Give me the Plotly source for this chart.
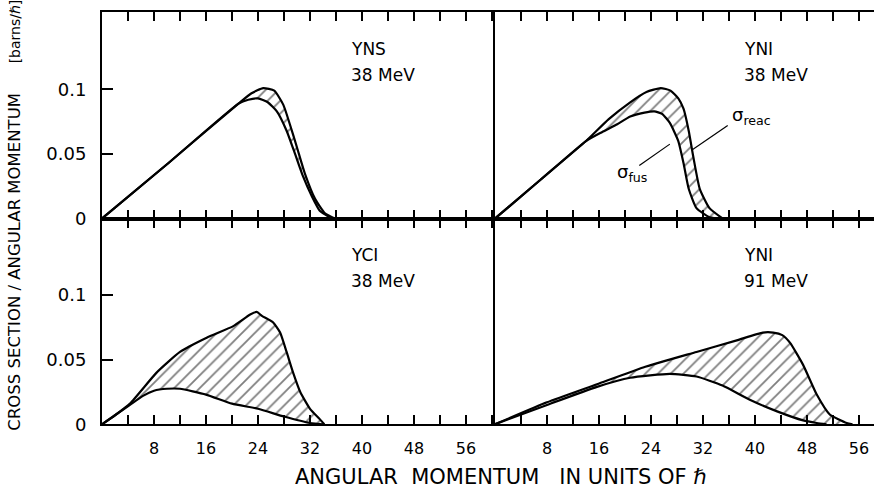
import plotly.graph_objects as go

# ---- data ----------------------------------------------------------------
# angular momentum l (units of hbar), cross section per l (barns/hbar)
yns38_fus_l = [0, 10, 21, 22.5, 24, 25.5, 26.9, 28.4, 29.7, 30.9, 32.3, 33.5, 35]
yns38_fus = [0, 0.042, 0.089, 0.092, 0.093, 0.090, 0.083, 0.068, 0.050, 0.033, 0.017, 0.006, 0.001]
yns38_reac_l = [0, 10, 21, 23, 24.8, 26.5, 27.9, 28.9, 30, 31.2, 32.8, 34.3, 35.8]
yns38_reac = [0, 0.042, 0.089, 0.097, 0.101, 0.099, 0.088, 0.073, 0.055, 0.035, 0.015, 0.004, 0]

yni38_fus_l = [0, 7, 14, 16.5, 18.8, 20.8, 23, 24.5, 25.7, 26.9, 28.2, 29, 29.8, 31, 33, 35]
yni38_fus = [0, 0.030, 0.060, 0.067, 0.073, 0.079, 0.082, 0.083, 0.081, 0.074, 0.060, 0.043, 0.023, 0.008, 0.001, 0]
yni38_reac_l = [0, 7, 14, 17.5, 20.8, 23.3, 25.5, 27, 28.2, 29, 29.8, 30.5, 31.5, 33, 35]
yni38_reac = [0, 0.030, 0.060, 0.077, 0.090, 0.098, 0.101, 0.099, 0.093, 0.085, 0.068, 0.048, 0.023, 0.008, 0]

yci38_fus_l = [0, 2, 4.3, 6.3, 8, 10, 12, 16, 20, 24, 28, 32, 34.2]
yci38_fus = [0, 0.007, 0.015, 0.022, 0.026, 0.0275, 0.0275, 0.023, 0.016, 0.012, 0.006, 0.001, 0]
yci38_reac_l = [0, 2, 4.3, 8.4, 12, 16.1, 20.2, 22.8, 23.8, 24.6, 26.3, 27.4, 28.4, 29.4, 30.5, 32, 33.5, 34.2]
yci38_reac = [0, 0.007, 0.016, 0.040, 0.056, 0.067, 0.076, 0.085, 0.087, 0.084, 0.079, 0.071, 0.056, 0.040, 0.025, 0.012, 0.004, 0]

yni91_fus_l = [0, 8, 15.7, 20.8, 26.9, 31, 35, 39.2, 43.4, 47.4, 49.5, 51]
yni91_fus = [0, 0.015, 0.029, 0.036, 0.039, 0.037, 0.030, 0.019, 0.010, 0.003, 0.001, 0]
yni91_reac_l = [0, 8, 15.7, 22.8, 31, 37.2, 41.2, 42.8, 44.2, 45.4, 47.4, 49.5, 51.5, 54.1, 55]
yni91_reac = [0, 0.017, 0.031, 0.044, 0.056, 0.065, 0.071, 0.071, 0.069, 0.063, 0.046, 0.023, 0.0076, 0.001, 0]

x_ticks = [8, 16, 24, 32, 40, 48, 56]
x_ticktext = ["8", "16", "24", "32", "40", "48", "56"]
y_ticks = [0, 0.05, 0.1]
y_ticktext = ["0", "0.05", "0.1"]

panel_labels = [("YNS", "38 MeV"), ("YNI", "38 MeV"), ("YCI", "38 MeV"), ("YNI", "91 MeV")]

FONT = "DejaVu Sans"
W, H = 874, 497
# panel frame in pixels
X0, XMID, X1 = 102, 495, 874
YTOP, YMID, YBOT = 12, 223, 433
PX_PER_L = 6.5

panels = [
    # (suffix, fus_l, fus, reac_l, reac, x pixels, y pixels, is_left, is_bottom)
    ("", yns38_fus_l, yns38_fus, yns38_reac_l, yns38_reac, (X0, XMID), (YMID, YTOP), True, False),
    ("2", yni38_fus_l, yni38_fus, yni38_reac_l, yni38_reac, (XMID, X1), (YMID, YTOP), False, False),
    ("3", yci38_fus_l, yci38_fus, yci38_reac_l, yci38_reac, (X0, XMID), (YBOT, YMID), True, True),
    ("4", yni91_fus_l, yni91_fus, yni91_reac_l, yni91_reac, (XMID, X1), (YBOT, YMID), False, True),
]

fig = go.Figure()
layout = dict(
    width=W, height=H, margin=dict(l=0, r=0, t=0, b=0),
    paper_bgcolor="white", plot_bgcolor="white", showlegend=False,
    font=dict(family=FONT, color="black"),
)
annotations = []

for (sfx, fl, fy, rl, ry, (xa, xb), (ya, yb), is_left, is_bottom), (name, energy) in zip(panels, panel_labels):
    xref, yref = "x" + sfx, "y" + sfx
    line = dict(color="black", width=2.2, shape="spline", smoothing=0.5)
    fig.add_trace(go.Scatter(x=fl, y=fy, mode="lines", line=line, xaxis=xref, yaxis=yref,
                             hoverinfo="skip"))
    fig.add_trace(go.Scatter(
        x=rl, y=ry, mode="lines", line=line, xaxis=xref, yaxis=yref, fill="tonexty",
        fillcolor="rgba(0,0,0,0)",
        fillpattern=dict(shape="/", size=9, solidity=0.2, fgcolor="black", bgcolor="rgba(0,0,0,0)"),
        hoverinfo="skip"))

    layout["xaxis" + sfx] = dict(
        domain=[xa / W, xb / W], range=[0, (xb - xa) / PX_PER_L], anchor=yref,
        showgrid=False, zeroline=False, showline=True, linecolor="black", linewidth=2,
        mirror="ticks", ticks="inside", ticklen=9, tickwidth=1.5, tickcolor="black",
        tickvals=x_ticks, ticktext=x_ticktext, showticklabels=is_bottom,
        minor=dict(tick0=0, dtick=4, ticks="inside", ticklen=9, tickwidth=1.5, tickcolor="black"),
        tickfont=dict(size=16, family=FONT), ticklabelstandoff=9,
    )
    layout["yaxis" + sfx] = dict(
        domain=[1 - ya / H, 1 - yb / H], range=[0, (ya - yb) / 1318], anchor=xref,
        showgrid=False, zeroline=False, showline=True, linecolor="black", linewidth=2,
        ticks="inside" if is_left else "", ticklen=11, tickwidth=1.5, tickcolor="black",
        tickvals=y_ticks, ticktext=y_ticktext, showticklabels=is_left,
        tickfont=dict(size=18, family=FONT), ticklabelstandoff=10,
    )
    for text, yv in ((name, 0.131), (energy, 0.111)):
        annotations.append(dict(text=text, x=38, y=yv, xref=xref, yref=yref, xanchor="left",
                                yanchor="middle", showarrow=False, font=dict(size=17)))

# sigma labels with leader lines in the YNI 38 MeV panel
annotations += [
    dict(text="σ<sub>reac</sub>", x=36.2, y=0.0795, xref="x2", yref="y2", xanchor="left",
         yanchor="middle", showarrow=False, font=dict(size=18)),
    dict(text="σ<sub>fus</sub>", x=18.5, y=0.035, xref="x2", yref="y2", xanchor="left",
         yanchor="middle", showarrow=False, font=dict(size=18)),
]
shapes = [
    dict(type="line", xref="x2", yref="y2", x0=30.3, y0=0.053, x1=35.8, y1=0.072,
         line=dict(color="black", width=1.2)),
    dict(type="line", xref="x2", yref="y2", x0=22.2, y0=0.041, x1=26.9, y1=0.0576,
         line=dict(color="black", width=1.2)),
]

# axis titles
annotations += [
    dict(text="ANGULAR  MOMENTUM   IN UNITS OF ℏ", x=501 / W, y=1 - 487 / H, xref="paper",
         yref="paper", showarrow=False, xanchor="center", yanchor="middle",
         font=dict(size=21)),
    dict(text="CROSS SECTION / ANGULAR MOMENTUM", x=15 / W, y=1 - 267 / H, xref="paper",
         yref="paper", showarrow=False, textangle=-90, xanchor="center", yanchor="middle",
         font=dict(size=16.5)),
    dict(text="[barns/ℏ]", x=15 / W, y=1 - 32 / H, xref="paper",
         yref="paper", showarrow=False, textangle=-90, xanchor="center", yanchor="middle",
         font=dict(size=14)),
]

layout["annotations"] = annotations
layout["shapes"] = shapes
fig.update_layout(**layout)

fig.write_html("out.html", config={"displayModeBar": False},
               post_script="document.body.style.margin='0px';")
